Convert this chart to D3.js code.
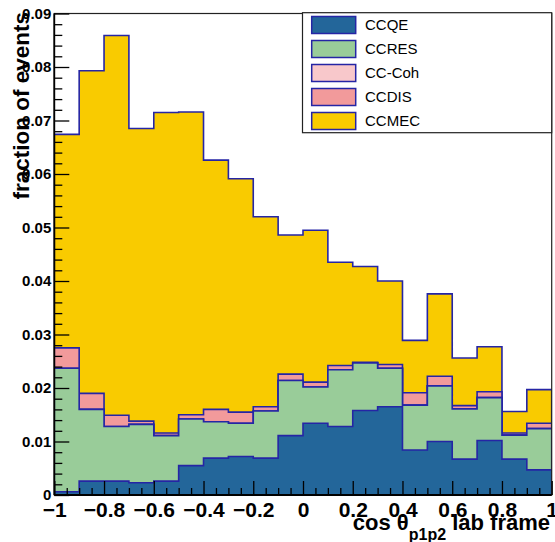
<!DOCTYPE html>
<html>
<head>
<meta charset="utf-8">
<script src="https://cdn.jsdelivr.net/npm/d3@7"></script>
<style>
  html, body { margin: 0; padding: 0; background: #ffffff; }
  svg { display: block; font-family: "Liberation Sans", Arial, Helvetica, sans-serif; }
</style>
</head>
<body>
<svg id="chart" width="555" height="542"></svg>
<script>
// Bin edges of cos(theta_p1p2) in the lab frame
const binEdges = [-1.0, -0.9, -0.8, -0.7, -0.6, -0.5, -0.4, -0.3, -0.2, -0.1, 0.0,
                  0.1, 0.2, 0.3, 0.4, 0.5, 0.6, 0.7, 0.8, 0.9, 1.0];

// Interaction channels, bottom of the stack first
const categories = ["CCQE", "CCRES", "CC-Coh", "CCDIS", "CCMEC"];

// Fraction of events per bin for each channel
const ccqe   = [0.0006, 0.0026, 0.0026, 0.0023, 0.0026, 0.0055, 0.0069, 0.0072, 0.0069, 0.0111,
                0.0134, 0.0128, 0.0158, 0.0165, 0.0084, 0.0100, 0.0067, 0.0102, 0.0067, 0.0047];
const ccres  = [0.0231, 0.0134, 0.0102, 0.0109, 0.0085, 0.0087, 0.0068, 0.0062, 0.0088, 0.0103,
                0.0068, 0.0106, 0.0089, 0.0072, 0.0084, 0.0104, 0.0094, 0.0080, 0.0045, 0.0077];
const cccoh  = [0, 0, 0, 0, 0, 0, 0, 0, 0, 0,
                0, 0, 0, 0, 0, 0, 0, 0, 0, 0];
const ccdis  = [0.0038, 0.0030, 0.0021, 0.0006, 0.0005, 0.0008, 0.0023, 0.0021, 0.0008, 0.0012,
                0.0009, 0.0008, 0.0001, 0.0007, 0.0023, 0.0018, 0.0006, 0.0011, 0.0004, 0.0010];
const ccmec  = [0.0399, 0.0603, 0.0710, 0.0547, 0.0599, 0.0566, 0.0466, 0.0436, 0.0355, 0.0260,
                0.0284, 0.0193, 0.0179, 0.0156, 0.0098, 0.0154, 0.0089, 0.0084, 0.0040, 0.0063];

// Axis ticks
const xTicks = [-1, -0.8, -0.6, -0.4, -0.2, 0, 0.2, 0.4, 0.6, 0.8, 1];
const xMinorTicks = [-0.95, -0.9, -0.85, -0.75, -0.7, -0.65, -0.55, -0.5, -0.45, -0.35, -0.3, -0.25,
                     -0.15, -0.1, -0.05, 0.05, 0.1, 0.15, 0.25, 0.3, 0.35, 0.45, 0.5, 0.55,
                     0.65, 0.7, 0.75, 0.85, 0.9, 0.95];
const yTicks = [0, 0.01, 0.02, 0.03, 0.04, 0.05, 0.06, 0.07, 0.08, 0.09];
const yMinorTicks = d3.merge(yTicks.slice(0, -1).map(t => [1, 2, 3, 4].map(k => +(t + k * 0.002).toFixed(4))));

const fills = {
  "CCQE":   "#23669a",
  "CCRES":  "#99cc99",
  "CC-Coh": "#f8c8cb",
  "CCDIS":  "#f29a9b",
  "CCMEC":  "#f9cb00"
};
const outline = "#2525a5";

const svg = d3.select("#chart");
const plot = { left: 54.3, right: 551.7, top: 13.5, bottom: 495 };

const x = d3.scaleLinear().domain([-1, 1]).range([plot.left, plot.right]);
const y = d3.scaleLinear().domain([0, 0.09]).range([plot.bottom, plot.top]);

// Per-bin table for the stack layout
const series = { "CCQE": ccqe, "CCRES": ccres, "CC-Coh": cccoh, "CCDIS": ccdis, "CCMEC": ccmec };
const table = binEdges.slice(0, -1).map((lo, i) => {
  const row = { lo: lo, hi: binEdges[i + 1] };
  categories.forEach(c => { row[c] = series[c][i]; });
  return row;
});
const stacked = d3.stack().keys(categories)(table);

svg.append("defs").append("clipPath").attr("id", "plotclip")
  .append("rect")
  .attr("x", plot.left).attr("y", plot.top)
  .attr("width", plot.right - plot.left).attr("height", plot.bottom - plot.top);

const line = d3.line().x(d => d[0]).y(d => d[1]);

// Cumulative histograms, largest first so the lower channels sit on top
const histG = svg.append("g").attr("clip-path", "url(#plotclip)");
stacked.slice().reverse().forEach(layer => {
  const pts = [[x(binEdges[0]), y(0)]];
  layer.forEach(d => {
    pts.push([x(d.data.lo), y(d[1])]);
    pts.push([x(d.data.hi), y(d[1])]);
  });
  pts.push([x(binEdges[binEdges.length - 1]), y(0)]);
  histG.append("path")
    .attr("d", line(pts) + "Z")
    .attr("fill", fills[layer.key])
    .attr("stroke", outline)
    .attr("stroke-width", 1.6)
    .attr("stroke-linejoin", "miter");
});

// Frame
svg.append("rect")
  .attr("x", plot.left).attr("y", plot.top)
  .attr("width", plot.right - plot.left).attr("height", plot.bottom - plot.top)
  .attr("fill", "none").attr("stroke", "#222").attr("stroke-width", 1.2);

// Y axis (ticks pointing into the frame)
const yAxis = svg.append("g").attr("transform", `translate(${plot.left},0)`)
  .call(d3.axisLeft(y).tickValues(yTicks).tickSize(-15).tickPadding(3)
    .tickFormat(v => v === 0 ? "0" : d3.format(".2f")(v)));
yAxis.select(".domain").remove();
yAxis.selectAll("line").attr("stroke", "#000").attr("stroke-width", 1.3);
yAxis.selectAll("text").attr("font-size", 15).attr("font-weight", "bold").attr("fill", "#000")
  .attr("font-family", "Liberation Sans, Arial, sans-serif");

const yMinor = svg.append("g").attr("transform", `translate(${plot.left},0)`)
  .call(d3.axisLeft(y).tickValues(yMinorTicks).tickSize(-8).tickFormat(""));
yMinor.select(".domain").remove();
yMinor.selectAll("line").attr("stroke", "#000").attr("stroke-width", 1.3);

// X axis (ticks pointing up into the frame)
const xAxis = svg.append("g").attr("transform", `translate(0,${plot.bottom})`)
  .call(d3.axisBottom(x).tickValues(xTicks).tickSize(-14).tickPadding(5)
    .tickFormat(d3.format("~g")));
xAxis.select(".domain").remove();
xAxis.selectAll("line").attr("stroke", "#000").attr("stroke-width", 1.3);
xAxis.selectAll("text").attr("font-size", 21).attr("font-weight", "bold").attr("fill", "#000")
  .attr("font-family", "Liberation Sans, Arial, sans-serif")
  .attr("y", 22).attr("dy", 0);

const xMinor = svg.append("g").attr("transform", `translate(0,${plot.bottom})`)
  .call(d3.axisBottom(x).tickValues(xMinorTicks).tickSize(-7).tickFormat(""));
xMinor.select(".domain").remove();
xMinor.selectAll("line").attr("stroke", "#000").attr("stroke-width", 1.3);

// Axis lines
svg.append("line").attr("x1", plot.left).attr("x2", plot.left)
  .attr("y1", plot.top).attr("y2", plot.bottom).attr("stroke", "#000").attr("stroke-width", 1.8);
svg.append("line").attr("x1", plot.left).attr("x2", plot.right)
  .attr("y1", plot.bottom).attr("y2", plot.bottom).attr("stroke", "#000").attr("stroke-width", 1.8);

// Axis titles
svg.append("text")
  .attr("transform", "translate(29,12) rotate(-90)")
  .attr("text-anchor", "end")
  .attr("font-size", 22.5).attr("font-weight", "bold").attr("fill", "#000")
  .text("fraction of events");

const xTitle = svg.append("text")
  .attr("x", 550).attr("y", 530)
  .attr("text-anchor", "end")
  .attr("font-size", 22).attr("font-weight", "bold").attr("fill", "#000");
xTitle.append("tspan").text("cos θ");
xTitle.append("tspan").attr("font-size", 16).attr("dy", 10).text("p1p2");
xTitle.append("tspan").attr("dy", -10).text(" lab frame");

// Legend
const leg = svg.append("g");
leg.append("rect")
  .attr("x", 302.5).attr("y", 12.7).attr("width", 249.2).attr("height", 120)
  .attr("fill", "#fff").attr("stroke", "#222").attr("stroke-width", 1.2);
categories.forEach((c, i) => {
  const cy = 25 + i * 24;
  leg.append("rect")
    .attr("x", 311.7).attr("y", cy - 8.5).attr("width", 44).attr("height", 17)
    .attr("fill", fills[c]).attr("stroke", outline).attr("stroke-width", 1.5);
  leg.append("text")
    .attr("x", 365).attr("y", cy + 5.2)
    .attr("font-size", 15).attr("fill", "#000")
    .text(c);
});
</script>
</body>
</html>
